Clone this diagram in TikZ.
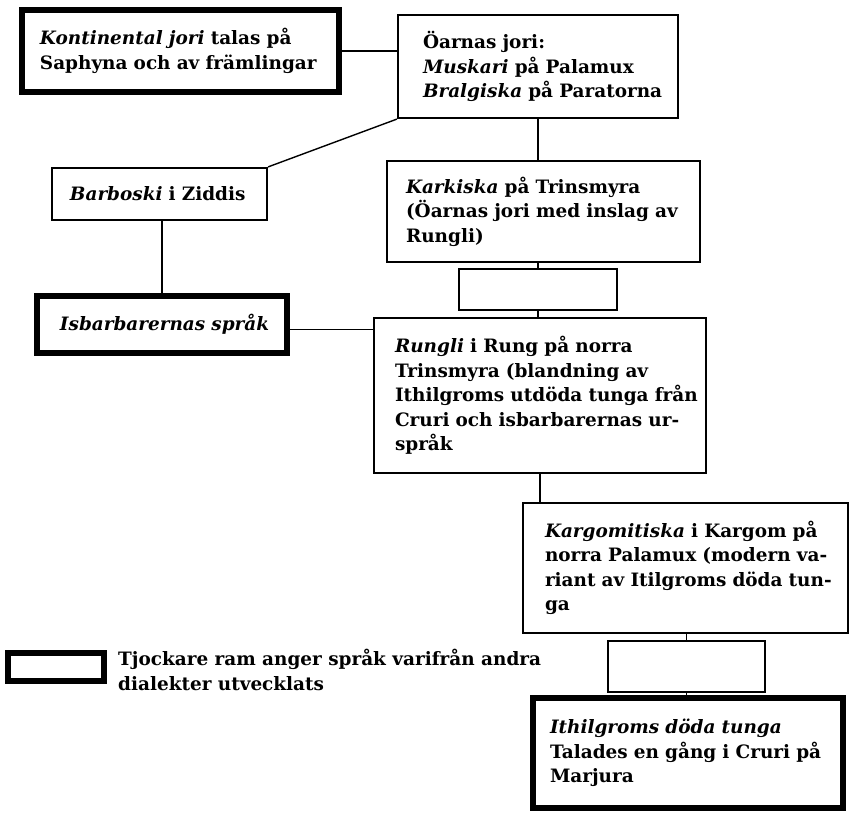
\documentclass[tikz,border=0pt]{standalone}
\usepackage{fontspec}
\setmainfont{DejaVu Serif}
\newcommand\nbline[1]{\mbox{#1}}
\begin{document}
\begin{tikzpicture}[x=1bp,y=-1bp,
  txt/.style={font=\bfseries\fontsize{18.5}{24.5}\selectfont},
  boxbase/.style={txt, draw, align=left, inner ysep=0pt, anchor=center},
  thinbox/.style={boxbase, line width=2.2bp},
  thickbox/.style={boxbase, line width=5.5bp},
  conn/.style={line width=1.4bp}]
\useasboundingbox (0,0) rectangle (858,818);

\node[thickbox, minimum width=317bp, minimum height=82bp, text width=281bp, inner xsep=18bp] (kont) at (180.5,51)
  {\nbline{\textit{Kontinental jori} talas på}\\\nbline{Saphyna och av främlingar}};
\node[thinbox, minimum width=280bp, minimum height=103bp, text width=230bp, inner xsep=25bp] (oar) at (538,66.5)
  {\nbline{Öarnas jori:}\\\nbline{\textit{Muskari} på Palamux}\\\nbline{\textit{Bralgiska} på Paratorna}};
\node[thinbox, minimum width=215bp, minimum height=52bp, text width=179bp, inner xsep=18bp] (barb) at (159.5,194)
  {\nbline{\textit{Barboski} i Ziddis}};
\node[thickbox, minimum width=250bp, minimum height=57bp, text width=204bp, inner xsep=23bp] (isb) at (162,324.5)
  {\nbline{\textit{Isbarbarernas språk}}};
\node[thinbox, minimum width=313bp, minimum height=101bp, text width=275bp, inner xsep=19bp] (kark) at (543.5,211.5)
  {\nbline{\textit{Karkiska} på Trinsmyra}\\\nbline{(Öarnas jori med inslag av}\\\nbline{Rungli)}};
\node[thinbox, minimum width=158bp, minimum height=41bp] (e1) at (538,289.5) {};
\node[thinbox, minimum width=332bp, minimum height=155bp, text width=290bp, inner xsep=21bp] (rung) at (540,395.5)
  {\nbline{\textit{Rungli} i Rung på norra}\\\nbline{Trinsmyra (blandning av}\\\nbline{Ithilgroms utdöda tunga från}\\\nbline{Cruri och isbarbarernas ur-}\\\nbline{språk}};
\node[thinbox, minimum width=325bp, minimum height=130bp, text width=281bp, inner xsep=22bp] (karg) at (685.5,568)
  {\nbline{\textit{Kargomitiska} i Kargom på}\\\nbline{norra Palamux (modern va-}\\\nbline{riant av Itilgroms döda tun-}\\\nbline{ga}};
\node[thinbox, minimum width=157bp, minimum height=51bp] (e2) at (686.5,666.5) {};
\node[thickbox, minimum width=310bp, minimum height=110bp, text width=276bp, inner xsep=17bp] (ith) at (688,753)
  {\nbline{\textit{Ithilgroms döda tunga}}\\\nbline{Talades en gång i Cruri på}\\\nbline{Marjura}};
\node[thickbox, minimum width=96bp, minimum height=28bp] (leg) at (56,667) {};
\node[txt, anchor=west, align=left, inner sep=0pt] (legtxt) at (118,670)
  {Tjockare ram anger språk varifrån andra\\dialekter utvecklats};

\draw[conn] (kont.east) -- (kont.east -| oar.west);
\draw[conn] (oar.south west) -- (barb.north east);
\draw[conn] (oar.south) -- (oar.south |- kark.north);
\draw[conn] (barb.south -| isb.north) -- (isb.north);
\draw[conn] ([yshift=-5bp]isb.east) -- ([yshift=-5bp]isb.east -| rung.west);
\draw[conn] (e1.north |- kark.south) -- (e1.north);
\draw[conn] (e1.south) -- (e1.south |- rung.north);
\draw[conn] (rung.south) -- (rung.south |- karg.north);
\draw[conn] (e2.north |- karg.south) -- (e2.north);
\draw[conn] (e2.south) -- (e2.south |- ith.north);
\end{tikzpicture}
\end{document}
